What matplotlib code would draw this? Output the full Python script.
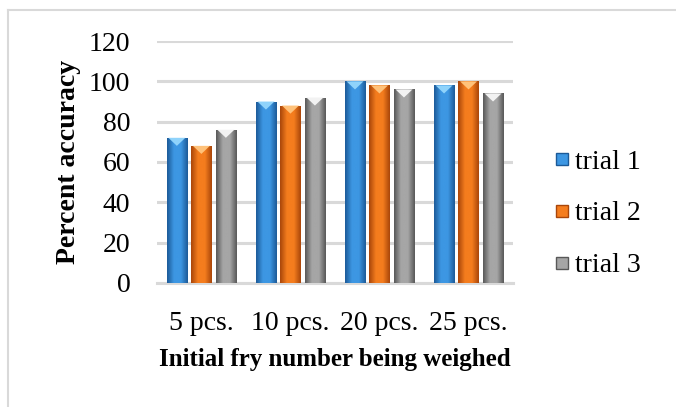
import matplotlib
matplotlib.use("Agg")
import matplotlib.pyplot as plt
import numpy as np
from matplotlib.colors import LinearSegmentedColormap
from matplotlib.patches import Polygon, Rectangle
from matplotlib.lines import Line2D

categories = ["5 pcs.", "10 pcs.", "20 pcs.", "25 pcs."]
trial_1 = [72, 90, 100, 98]
trial_2 = [68, 88, 98, 100]
trial_3 = [76, 92, 96, 94]
series_names = ["trial 1", "trial 2", "trial 3"]
yticks = [0, 20, 40, 60, 80, 100, 120]

# (dark edge, light middle, top triangle) per series
farben = [("#1c5a98", "#3d97e3", "#8fd3fb"),
          ("#a9460a", "#f57d1e", "#ffc27a"),
          ("#585858", "#a6a6a6", "#f2f2f2")]

plt.rcParams["font.family"] = ["Liberation Serif", "DejaVu Serif"]

fig = plt.figure(figsize=(6.76, 4.07), dpi=100)
ax = fig.add_axes([0.232, 0.305, 0.527, 0.594])

x = np.arange(len(categories))
bredde = 0.23
afstand = 0.275
data = [trial_1, trial_2, trial_3]

for i, serie in enumerate(data):
    mork, lys, top = farben[i]
    cmap = LinearSegmentedColormap.from_list("g%d" % i, [mork, lys, lys, mork])
    grad = np.linspace(0, 1, 64).reshape(1, -1)
    for j, v in enumerate(serie):
        x0 = x[j] + (i - 1) * afstand - bredde / 2
        x1 = x0 + bredde
        rect = Rectangle((x0, 0), bredde, v, facecolor="none", edgecolor="none")
        ax.add_patch(rect)
        im = ax.imshow(grad, cmap=cmap, aspect="auto", extent=(x0, x1, 0, v),
                       zorder=3, interpolation="bicubic")
        im.set_clip_path(rect)
        tri = Polygon([(x0 + 0.02, v), (x1 - 0.02, v), ((x0 + x1) / 2, v - 4)],
                      closed=True, facecolor=top, edgecolor="none", zorder=4)
        ax.add_patch(tri)

ax.set_xlim(-0.5, len(categories) - 0.5)
ax.set_ylim(0, 120)
ax.set_yticks(yticks)
ax.set_xticks(x)
ax.set_xticklabels(categories)
ax.yaxis.grid(True, color="#d9d9d9", linewidth=2.2, zorder=0)
ax.set_axisbelow(True)
for s in ["top", "right", "left"]:
    ax.spines[s].set_visible(False)
ax.spines["bottom"].set_color("#d9d9d9")
ax.spines["bottom"].set_linewidth(2.2)
ax.tick_params(axis="both", length=0, labelsize=20)
ax.tick_params(axis="y", pad=19)
ax.tick_params(axis="x", pad=20)
ax.set_ylabel("Percent accuracy", fontsize=20, fontweight="bold", labelpad=6)
ax.set_xlabel("Initial fry number being weighed", fontsize=18, fontweight="bold", labelpad=9)

handles = [Line2D([], [], marker="s", linestyle="none", markersize=9,
                  markerfacecolor=farben[i][1], markeredgecolor=farben[i][0])
           for i in range(3)]
fig.legend(handles, series_names, loc="center left", bbox_to_anchor=(0.778, 0.475),
           frameon=False, fontsize=20, handletextpad=0.05, labelspacing=0.95,
           handlelength=0.8)

# rammen om diagrammet
fig.add_artist(Line2D([8 / 676, 1.0], [1 - 10 / 407, 1 - 10 / 407],
                      transform=fig.transFigure, color="#d9d9d9", linewidth=1.5))
fig.add_artist(Line2D([8 / 676, 8 / 676], [0, 1 - 10 / 407],
                      transform=fig.transFigure, color="#d9d9d9", linewidth=1.5))

fig.savefig("out.png", dpi=100)
